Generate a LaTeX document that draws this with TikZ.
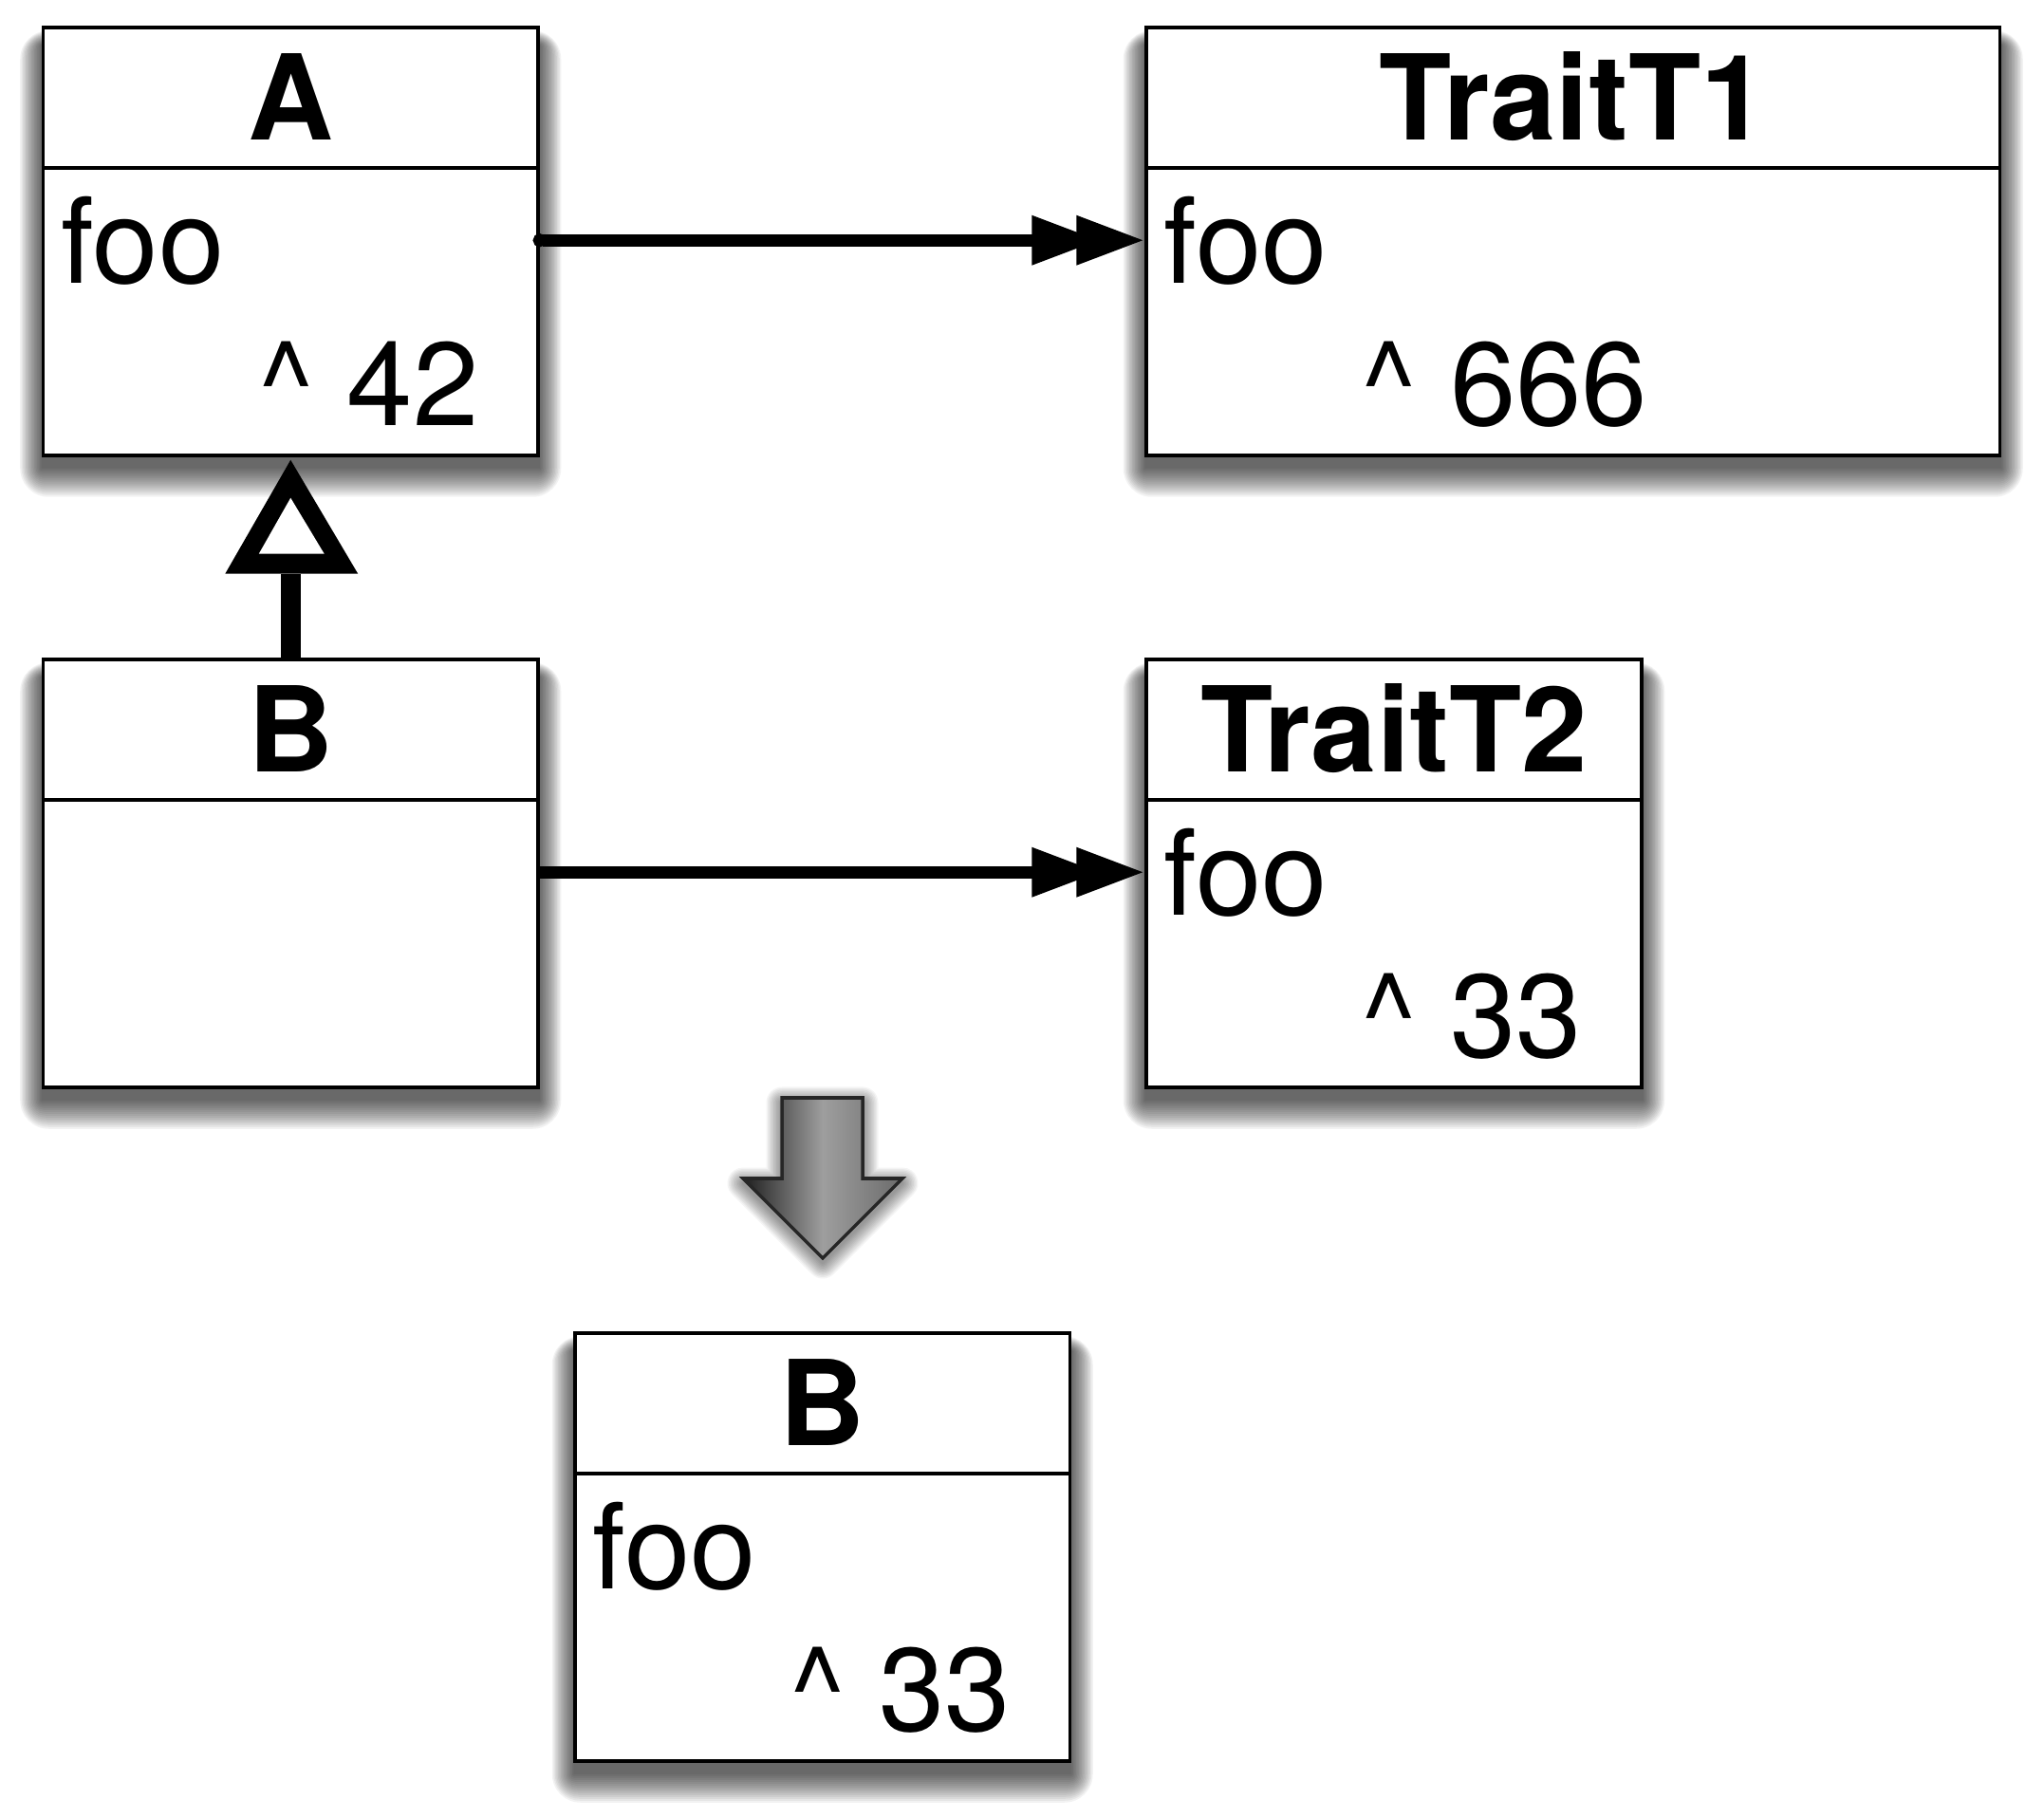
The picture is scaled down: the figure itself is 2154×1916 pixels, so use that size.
\documentclass[tikz,border=0pt]{standalone}
\usepackage{fontspec}
\setmainfont{TeX Gyre Heros}
\usetikzlibrary{arrows.meta,calc,backgrounds}
\tikzset{
  cls/.style={draw=black, line width=1pt, fill=white, rectangle, inner sep=0pt,
    minimum height=45.1mm},
  hdr/.style={line width=1.1pt},
  txt/.style={font=\fontsize{35.5pt}{40pt}\selectfont, inner sep=0pt, anchor=base west},
  ttl/.style={font=\fontsize{35.5pt}{40pt}\selectfont\bfseries, inner sep=0pt, anchor=base},
  assoc/.style={line width=1.3mm},
  dblhead/.pic={
    \fill[black] (0,0) -- (-70,-26.5) -- (-70,26.5) -- cycle;
    \fill[black] (-47,0) -- (-117,-26.5) -- (-117,26.5) -- cycle;
  },
  bigarrow/.style={draw=black!85, line width=1pt, left color=black!88,
    right color=black!58, middle color=black!38},
}
% soft shadow below a named box node
\newcommand{\boxshade}[1]{%
  \foreach \d in {0,2,...,30} {
    \fill[black, opacity=0.05, rounded corners={\d*0.1mm+0.01mm}]
      ([xshift={-\d*0.075mm}, yshift={-(\d+12)*0.1mm}]#1.south west) rectangle
      ([xshift={\d*0.075mm}, yshift={-(20-0.5*\d)*0.1mm}]#1.north east);
  }%
}
\begin{document}
\begin{tikzpicture}[x=0.1mm, y=-0.1mm]
\useasboundingbox (0,0) rectangle (2154,1916);

% class A
\node[cls, minimum width=52.15mm] (A) at (306.25,254.5) {};
\draw[hdr] ([yshift=-15mm]A.north west) -- ([yshift=-15mm]A.north east);
\node[ttl] (Atitle) at ([yshift=-12.06mm]A.north) {A};
\node[txt] (Afoo) at ([xshift=1.98mm,yshift=-27.1mm]A.north west) {foo};
\node[txt] (Aval) at ([xshift=22.8mm,yshift=-42.1mm]A.north west) {\textasciicircum{} 42};

% TraitT1
\node[cls, minimum width=89.95mm] (T1) at (1657.75,254.5) {};
\draw[hdr] ([yshift=-15mm]T1.north west) -- ([yshift=-15mm]T1.north east);
\node[ttl] (T1title) at ([yshift=-12.06mm]T1.north) {TraitT1};
\node[txt] (T1foo) at ([xshift=1.98mm,yshift=-27.1mm]T1.north west) {foo};
\node[txt] (T1val) at ([xshift=22.8mm,yshift=-42.1mm]T1.north west) {\textasciicircum{} 666};

% class B
\node[cls, minimum width=52.15mm] (B) at (306.25,920.5) {};
\draw[hdr] ([yshift=-15mm]B.north west) -- ([yshift=-15mm]B.north east);
\node[ttl] (Btitle) at ([yshift=-12.06mm]B.north) {B};

% TraitT2
\node[cls, minimum width=52.2mm] (T2) at (1469,920.5) {};
\draw[hdr] ([yshift=-15mm]T2.north west) -- ([yshift=-15mm]T2.north east);
\node[ttl] (T2title) at ([yshift=-12.06mm]T2.north) {TraitT2};
\node[txt] (T2foo) at ([xshift=1.98mm,yshift=-27.1mm]T2.north west) {foo};
\node[txt] (T2val) at ([xshift=22.8mm,yshift=-42.1mm]T2.north west) {\textasciicircum{} 33};

% resulting B
\node[cls, minimum width=52.15mm] (R) at (866.75,1630.5) {};
\draw[hdr] ([yshift=-15mm]R.north west) -- ([yshift=-15mm]R.north east);
\node[ttl] (Rtitle) at ([yshift=-12.06mm]R.north) {B};
\node[txt] (Rfoo) at ([xshift=1.98mm,yshift=-27.1mm]R.north west) {foo};
\node[txt] (Rval) at ([xshift=22.8mm,yshift=-42.1mm]R.north west) {\textasciicircum{} 33};

% associations
\coordinate (Aout) at ([xshift=-0.7mm,yshift=-22.6mm]A.north east);
\coordinate (T1in) at ([xshift=-0.2mm,yshift=-22.6mm]T1.north west);
\coordinate (Bout) at ([yshift=-22.6mm]B.north east);
\coordinate (T2in) at ([xshift=-0.2mm,yshift=-22.6mm]T2.north west);
\draw[assoc, {Circle[length=1.4mm]}-] (Aout) -- ([xshift=-11mm]T1in);
\pic at (T1in) {dblhead};
\draw[assoc] (Bout) -- ([xshift=-11mm]T2in);
\pic at (T2in) {dblhead};

% inheritance B -> A
\coordinate (inhbase) at ([yshift=-12.3mm]A.south);
\draw[line width=2.06mm] (B.north) -- (inhbase);
\fill[black] ([yshift=-0.3mm]A.south) -- ++(-69,120) -- ++(140,0) -- cycle;
\fill[white] ([yshift=-4.3mm]A.south) -- ++(-33.5,59) -- ++(69,0) -- cycle;

% transformation arrow (shadow on background layer)
\begin{scope}[on background layer]
  \fill[white] (0,0) rectangle (2154,1916);
  \boxshade{A}\boxshade{T1}\boxshade{B}\boxshade{T2}\boxshade{R}
  \foreach \d in {3,6,...,33} {
    \draw[black, opacity=0.045, line width={\d*0.1mm}, line join=round]
      [yshift=-0.5mm] (824,1157) -- (909,1157) -- (909,1242) -- (951,1242) -- (867,1326)
      -- (783,1242) -- (824,1242) -- cycle;
  }
\end{scope}
\path[bigarrow] (824,1157) -- (909,1157) -- (909,1242) -- (951,1242) -- (867,1326)
  -- (783,1242) -- (824,1242) -- cycle;
\end{tikzpicture}
\end{document}
